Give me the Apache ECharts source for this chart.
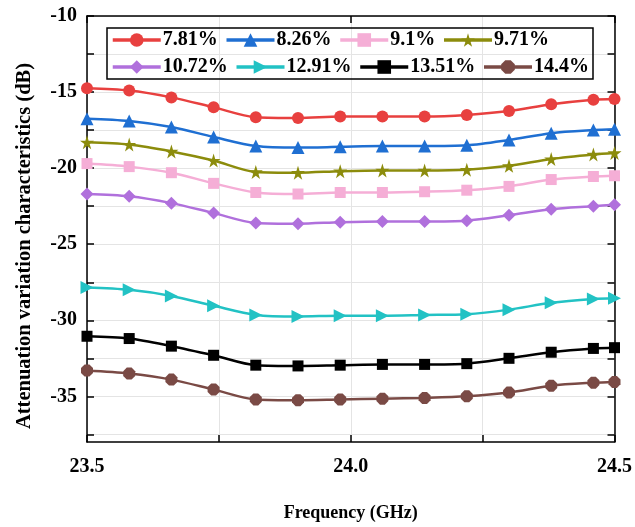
<!DOCTYPE html>
<html>
<head>
<meta charset="utf-8">
<script src="https://cdn.jsdelivr.net/npm/echarts@6/dist/echarts.min.js"></script>
<style>
  html, body { margin: 0; padding: 0; background: #fff; }
  #chart { width: 635px; height: 527px; }
</style>
</head>
<body>
<div id="chart"></div>
<script>
  // frequency points (GHz)
  var freq = [23.5, 23.58, 23.66, 23.74, 23.82, 23.9, 23.98, 24.06, 24.14, 24.22, 24.3, 24.38, 24.46, 24.5]

  var s781 = [-14.75, -14.9, -15.35, -16.0, -16.65, -16.7, -16.6, -16.6, -16.6, -16.5, -16.25, -15.8, -15.5, -15.45]
  var s826 = [-16.75, -16.9, -17.3, -17.95, -18.55, -18.65, -18.6, -18.55, -18.55, -18.5, -18.15, -17.7, -17.5, -17.45]
  var s910 = [-19.7, -19.9, -20.3, -21.0, -21.6, -21.7, -21.6, -21.6, -21.55, -21.45, -21.2, -20.75, -20.55, -20.5]
  var s971 = [-18.3, -18.45, -18.9, -19.5, -20.25, -20.3, -20.2, -20.15, -20.15, -20.1, -19.85, -19.4, -19.1, -19.0]
  var s1072 = [-21.7, -21.85, -22.3, -22.95, -23.6, -23.65, -23.55, -23.5, -23.5, -23.45, -23.1, -22.7, -22.5, -22.4]
  var s1291 = [-27.85, -28.0, -28.4, -29.05, -29.65, -29.75, -29.7, -29.7, -29.65, -29.6, -29.3, -28.85, -28.6, -28.55]
  var s1351 = [-31.05, -31.2, -31.7, -32.3, -32.95, -33.0, -32.95, -32.9, -32.9, -32.85, -32.5, -32.1, -31.85, -31.8]
  var s1440 = [-33.3, -33.5, -33.9, -34.55, -35.2, -35.25, -35.2, -35.15, -35.1, -35.0, -34.75, -34.3, -34.1, -34.05]

  var names = ['7.81%', '8.26%', '9.1%', '9.71%', '10.72%', '12.91%', '13.51%', '14.4%']
  var values = [s781, s826, s910, s971, s1072, s1291, s1351, s1440]

  // axis ticks / labels
  var xLabels = [23.5, 24.0, 24.5]
  var xTicks = [23.5, 23.75, 24.0, 24.25, 24.5]
  var yLabels = [-35, -30, -25, -20, -15, -10]
  var yTicks = [-37.5, -35, -32.5, -30, -27.5, -25, -22.5, -20, -17.5, -15, -12.5, -10]

  var colors = ['#e8403f', '#1f6fd2', '#f5aed6', '#8c8c0c', '#b070dc', '#22c2c4', '#000000', '#7a4a45']
  var symbols = ['circle', 'triangle', 'rect', 'path://M50,0 L61,35 L98,35 L68,57 L79,91 L50,70 L21,91 L32,57 L2,35 L39,35 Z',
    'diamond', 'path://M0,0 L100,50 L0,100 Z', 'rect', 'path://M30,0 L70,0 L100,30 L100,70 L70,100 L30,100 L0,70 L0,30 Z']
  var sizes = [12, 13, 11, 14, 13, 13, 11, 12]

  var font = 'Liberation Serif'

  var chart = echarts.init(document.getElementById('chart'))

  var series = names.map(function (n, i) {
    return {
      name: n,
      type: 'line',
      smooth: 0.3,
      data: freq.map(function (f, j) { return [f, values[i][j]] }),
      symbol: symbols[i],
      symbolSize: sizes[i],
      itemStyle: { color: colors[i] },
      lineStyle: { color: colors[i], width: 2.5 },
      clip: false
    }
  })

  var tickStyle = { show: true, inside: true, length: 7, lineStyle: { color: '#000', width: 1.5 } }
  var lineStyle = { show: true, lineStyle: { color: '#000', width: 1.5 } }

  chart.setOption({
    animation: false,
    grid: { left: 87, right: 18, top: 16, bottom: 84, show: false },
    legend: {
      data: names,
      left: 107,
      top: 28,
      width: 505,
      padding: [2, 4, 2, 4],
      itemGap: 7,
      itemWidth: 48,
      itemHeight: 17,
      lineStyle: { width: 3.5 },
      borderColor: '#000',
      borderWidth: 1.5,
      textStyle: { fontFamily: font, fontWeight: 'bold', fontSize: 20, color: '#000', padding: [0, 0, 0, -3] }
    },
    xAxis: [
      {
        type: 'value',
        min: 23.5,
        max: 24.5,
        name: 'Frequency (GHz)',
        nameLocation: 'middle',
        nameGap: 62,
        nameTextStyle: { fontFamily: font, fontWeight: 'bold', fontSize: 18, color: '#000' },
        axisLine: lineStyle,
        axisTick: Object.assign({}, tickStyle, { customValues: xTicks }),
        axisLabel: {
          customValues: xLabels,
          fontFamily: font, fontWeight: 'bold', fontSize: 20, color: '#000', margin: 15,
          formatter: function (v) { return v.toFixed(1) }
        },
        splitLine: { show: true, lineStyle: { color: '#e4e4e4', width: 1 } }
      },
      {
        type: 'value', position: 'top', min: 23.5, max: 24.5,
        axisLine: lineStyle,
        axisTick: Object.assign({}, tickStyle, { customValues: xLabels }),
        axisLabel: { show: false }, splitLine: { show: false }
      }
    ],
    yAxis: [
      {
        type: 'value',
        min: -38,
        max: -10,
        name: 'Attenuation variation characteristics (dB)',
        nameLocation: 'middle',
        nameGap: 52,
        nameTextStyle: { fontFamily: font, fontWeight: 'bold', fontSize: 20.5, color: '#000', padding: [0, 34, 0, 0] },
        axisLine: lineStyle,
        axisTick: Object.assign({}, tickStyle, { customValues: yTicks }),
        axisLabel: {
          customValues: yLabels,
          fontFamily: font, fontWeight: 'bold', fontSize: 20, color: '#000', margin: 10
        },
        splitLine: { show: true, lineStyle: { color: '#e4e4e4', width: 1 } }
      },
      {
        type: 'value', position: 'right', min: -38, max: -10,
        axisLine: lineStyle,
        axisTick: Object.assign({}, tickStyle, { customValues: yTicks }),
        axisLabel: { show: false }, splitLine: { show: false }
      }
    ],
    series: series
  })
</script>
</body>
</html>
